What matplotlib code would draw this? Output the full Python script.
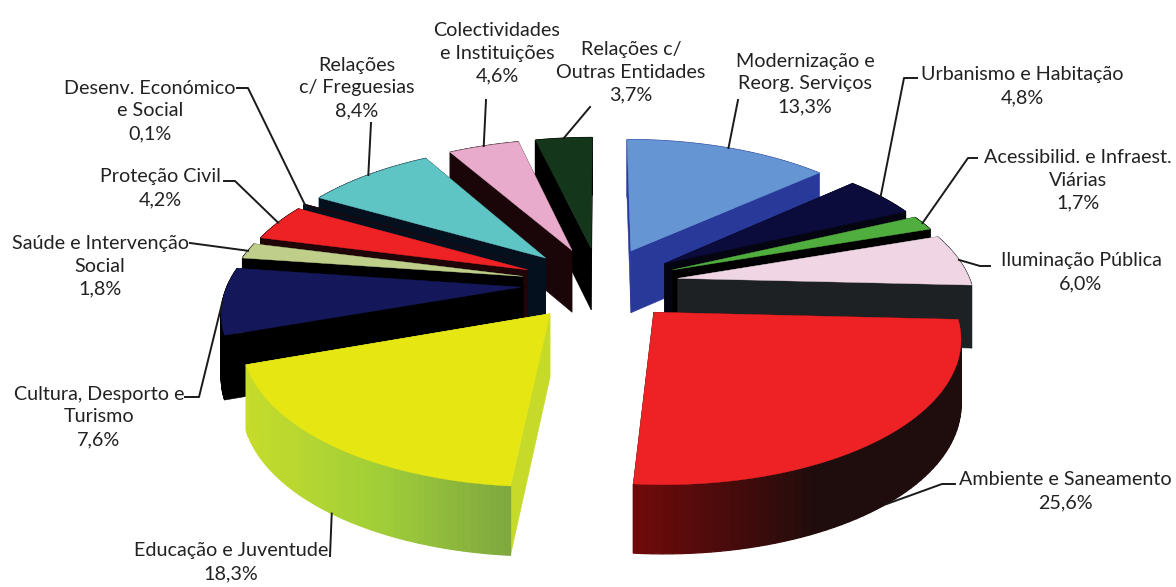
import numpy as np
import matplotlib
matplotlib.use("Agg")
import matplotlib.pyplot as plt
from matplotlib.colors import to_rgb

categories = ["Modernização e\nReorg. Serviços", "Urbanismo e Habitação", "Acessibilid. e Infraest.\nViárias",
              "Iluminação Pública", "Ambiente e Saneamento", "Educação e Juventude",
              "Cultura, Desporto e\nTurismo", "Saúde e Intervenção\nSocial", "Proteção Civil",
              "Desenv. Económico\ne Social", "Relações\nc/ Freguesias", "Colectividades\ne Instituições",
              "Relações c/\nOutras Entidades"]
values = [13.3, 4.8, 1.7, 6.0, 25.6, 18.3, 7.6, 1.8, 4.2, 0.1, 8.4, 4.6, 3.7]
value_labels = ["13,3%", "4,8%", "1,7%", "6,0%", "25,6%", "18,3%", "7,6%", "1,8%", "4,2%", "0,1%", "8,4%", "4,6%", "3,7%"]

top_colors = ["#6595D2", "#0B0B3C", "#4FAE3E", "#F0D6E4", "#EE2224", "#E6E612", "#14185A",
              "#BFCF8A", "#EE2224", "#200508", "#5FC4C4", "#E8ABCB", "#14361A"]
wall_colors = ["#28399A", "#050512", "#000000", "#1D2124", "#1F0C0C", "#C6DA2A", "#000000",
               "#000000", "#200508", "#05101E", "#05101E", "#1A0508", "#000000"]
# wall shading along the arc, only the two big slices have it
arc_shades = {4: ["#1F0C0C", "#1F0C0C", "#1F0C0C", "#6E0A0A"],
              5: ["#7FA83F", "#A0CE38", "#BAD830", "#C8DC2A"]}

# text centres in pixels, elbow of each leader
label_xy = [(805, 84), (1022, 86), (1078, 180), (1081, 272), (1065, 491), (231, 562), (99, 417),
            (100, 266), (160, 188), (150, 111), (357, 88), (497, 53), (631, 72)]
leaders = [[(738, 100)], [(917, 78), (904, 78)], [(977, 158), (968, 158)], [(990, 266), (980, 266)],
           [(955, 484), (942, 484)], [(330, 556)], [(185, 397), (199, 397)], [(190, 243)],
           [(224, 181), (235, 181)], [(237, 88), (248, 88)], [(371, 123)], [(486, 100)], [(590, 107)]]

cx, cy = 600, 283.5
sx, sy = 293, 137
persp = 0.15
explode = 0.27
height = 63


def project(u, v, z=0):
    s = 1 / (1 + persp * v)
    # walls shrink less with depth than the top does
    return cx + sx * u * s, cy - sy * v * s + z / (1 + 0.5 * persp * v)


def shade(stops, t):
    rgb = np.array([to_rgb(c) for c in stops])
    pos = np.linspace(0, 1, len(stops))
    return [np.interp(t, pos, rgb[:, i]) for i in range(3)]


fig = plt.figure(figsize=(11.76, 5.87), dpi=100)
ax = fig.add_axes([0, 0, 1, 1])
ax.set_xlim(0, 1176)
ax.set_ylim(587, 0)
ax.axis("off")

edges = np.cumsum([0] + values) / sum(values) * 2 * np.pi
mids = (edges[:-1] + edges[1:]) / 2

# back slices first so the front ones paint over them
for i in np.argsort(-np.cos(mids)):
    ox, oy = explode * np.sin(mids[i]), explode * np.cos(mids[i])
    th = np.linspace(edges[i], edges[i + 1], 60)
    u = ox + np.sin(th)
    v = oy + np.cos(th)

    x_top, y_top = project(u, v)
    x_low, y_low = project(u, v, height)
    tip_x, tip_y = project(ox, oy)
    tip_xl, tip_yl = project(ox, oy, height)

    # straight walls
    for k in (0, -1):
        ax.fill([tip_x, x_top[k], x_low[k], tip_xl], [tip_y, y_top[k], y_low[k], tip_yl],
                color=wall_colors[i], lw=0.4)
    # curved wall
    for k in range(len(th) - 1):
        col = wall_colors[i]
        if i in arc_shades:
            col = shade(arc_shades[i], k / (len(th) - 2))
        ax.fill([x_top[k], x_top[k + 1], x_low[k + 1], x_low[k]],
                [y_top[k], y_top[k + 1], y_low[k + 1], y_low[k]], color=col, lw=0.9)
    ax.fill(np.r_[tip_x, x_top], np.r_[tip_y, y_top], color=top_colors[i], lw=0.3)

for i, name in enumerate(categories):
    ox, oy = explode * np.sin(mids[i]), explode * np.cos(mids[i])
    end = project(ox + np.sin(mids[i]), oy + np.cos(mids[i]))
    if np.cos(mids[i]) < -0.3:
        end = project(ox + np.sin(mids[i]), oy + np.cos(mids[i]), height)
    pts = leaders[i] + [end]
    ax.plot([p[0] for p in pts], [p[1] for p in pts], color="#1a1a1a", lw=1.4, zorder=5)
    ax.text(label_xy[i][0], label_xy[i][1], name + "\n" + value_labels[i], ha="center", va="center",
            family="Lato", fontsize=14.2, color="#222222", linespacing=1.42, zorder=6)

fig.savefig("out.png", dpi=100)
